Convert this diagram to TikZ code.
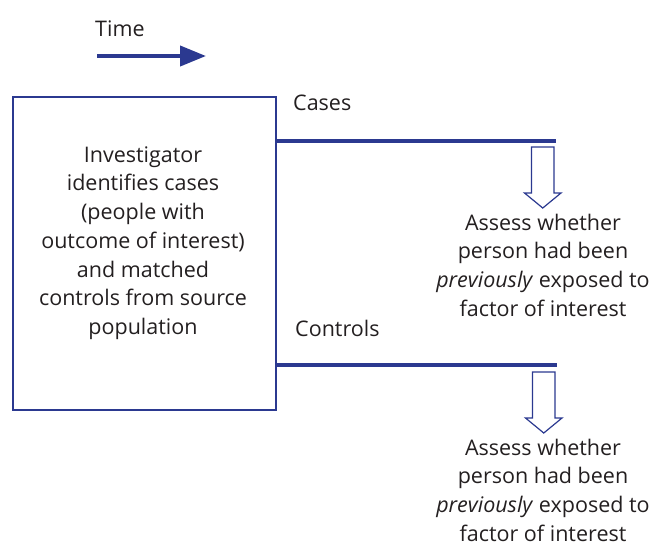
\documentclass[tikz,border=0pt]{standalone}
\usepackage{fontspec}
\setmainfont{Open Sans}
\usetikzlibrary{arrows.meta}
\definecolor{dblue}{HTML}{2B3990}
\definecolor{txt}{HTML}{231F20}
\begin{document}
\begin{tikzpicture}[x=1pt,y=-1pt,
  lbl/.style={text=txt,font=\fontsize{21.5}{28.7}\selectfont,inner sep=0pt},
  block/.style={lbl,align=center},
  bar/.style={draw=dblue,line width=4pt},
  hollow/.style={draw=dblue,line width=1.2pt,fill=white,line join=miter}]
\useasboundingbox (0,0) rectangle (656,547);
% time arrow
\node[lbl,anchor=west] (time) at (95,29) {Time};
\coordinate (ts) at (97,56);
\coordinate (te) at (206,56);
\draw[bar,-{Triangle[length=26pt,width=20pt]}] (ts) -- (te);
% box
\node[draw=dblue,line width=1.5pt,minimum width=263pt,minimum height=313pt,inner sep=0pt] (box) at (144.5,253.5) {};
\node[block] (boxtext) at (143,243) {Investigator\\identifies cases\\(people with\\outcome of interest)\\and matched\\controls from source\\population};
% cases
\node[lbl,anchor=west] (cases) at (293,103) {Cases};
\coordinate (c1) at (box.east |- 0,141);
\coordinate (c1e) at (556,141);
\draw[bar] (c1) -- (c1e);
\node[lbl,anchor=west] (controls) at (295,328) {Controls};
\coordinate (c2) at (box.east |- 0,365);
\coordinate (c2e) at (557,365);
\draw[bar] (c2) -- (c2e);
% hollow arrows
\draw[hollow] (531.5,147) -- (554,147) -- (554,193) -- (561,193) -- (542.75,208) -- (524.5,193) -- (531.5,193) -- cycle;
\draw[hollow] (532.5,372) -- (555,372) -- (555,418) -- (562,418) -- (543.75,433) -- (525.5,418) -- (532.5,418) -- cycle;
% texts
\node[block] (assess1) at (543,265) {Assess whether\\person had been\\\emph{previously} exposed to\\factor of interest};
\node[block] (assess2) at (543,490) {Assess whether\\person had been\\\emph{previously} exposed to\\factor of interest};
\end{tikzpicture}
\end{document}
